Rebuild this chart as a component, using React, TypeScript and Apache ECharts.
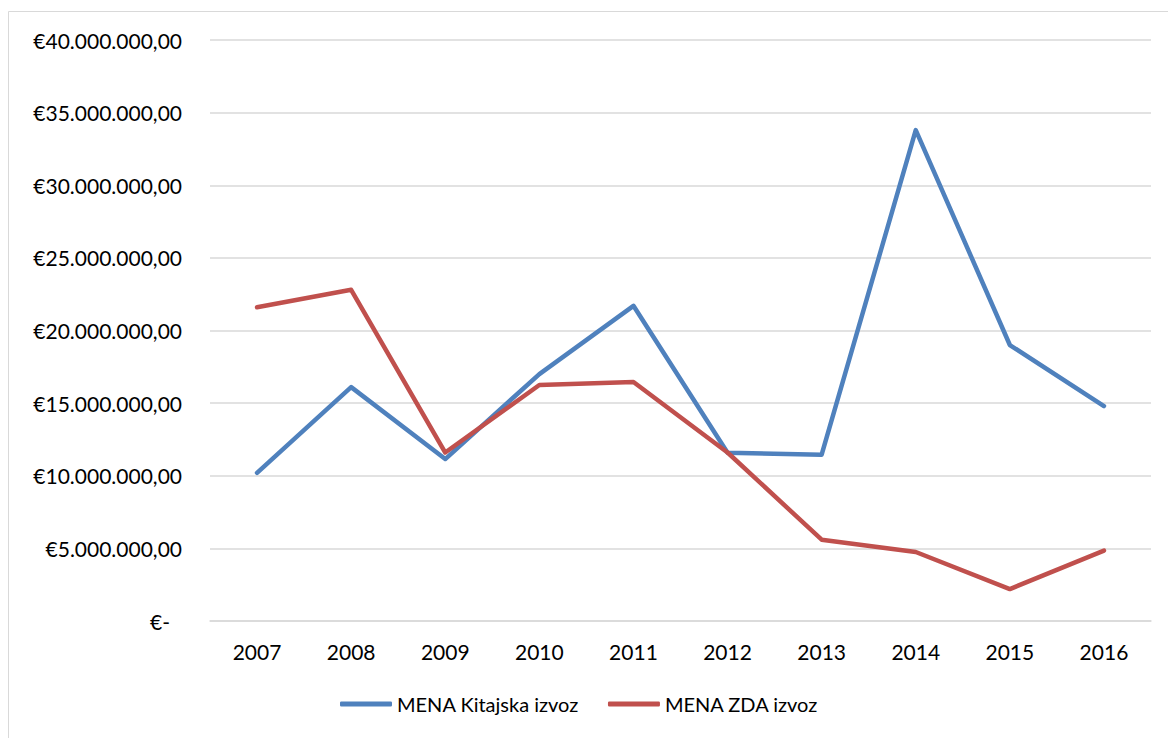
import React, { useEffect, useRef } from "react";
import * as echarts from "echarts";

const years = ["2007", "2008", "2009", "2010", "2011", "2012", "2013", "2014", "2015", "2016"];
const kitajska = [10200000, 16100000, 11150000, 17000000, 21700000, 11580000, 11450000, 33800000, 19000000, 14800000];
const zda = [21600000, 22800000, 11600000, 16250000, 16450000, 11600000, 5600000, 4750000, 2200000, 4850000];
const seriesNames = ["MENA Kitajska izvoz", "MENA ZDA izvoz"];
const FONT = "Lato, 'Liberation Sans', sans-serif";

function fmt(v: number): string {
  if (v === 0) return "{z|€-}";
  const s = Math.round(v).toString().replace(/\B(?=(\d{3})+(?!\d))/g, ".");
  return "€" + s + ",00";
}

export default function App() {
  const ref = useRef<HTMLDivElement>(null);
  useEffect(() => {
    if (!ref.current) return;
    const chart = echarts.init(ref.current, null, { renderer: "svg" });
    chart.setOption({
      animation: false,
      textStyle: { fontFamily: FONT },
      graphic: [
        {
          type: "rect",
          shape: { x: 8.5, y: 11.5, width: 1300, height: 900 },
          style: { fill: "none", stroke: "#d9d9d9", lineWidth: 1 },
          silent: true,
        },
      ],
      grid: { left: 210, right: 17, top: 40, bottom: 117, containLabel: false },
      legend: {
        left: 340,
        top: 694,
        padding: 0,
        icon: "roundRect",
        itemWidth: 52,
        itemHeight: 5,
        itemGap: 29,
        textStyle: { fontSize: 20, color: "#000", fontFamily: FONT },
        data: seriesNames,
      },
      xAxis: {
        type: "category",
        data: years,
        boundaryGap: true,
        axisTick: { show: false },
        axisLine: { lineStyle: { color: "#d9d9d9", width: 1.5 } },
        axisLabel: { fontSize: 21, color: "#000", margin: 20, fontFamily: FONT },
      },
      yAxis: {
        type: "value",
        min: 0,
        max: 40000000,
        interval: 5000000,
        axisLine: { show: false },
        axisTick: { show: false },
        splitLine: { lineStyle: { color: "#d9d9d9", width: 1.5 } },
        axisLabel: {
          fontSize: 21,
          color: "#000",
          margin: 28,
          fontFamily: FONT,
          formatter: fmt,
          rich: { z: { fontSize: 21, color: "#000", fontFamily: FONT, padding: [0, 12, 0, 0] } },
        },
      },
      series: [
        {
          name: seriesNames[0],
          type: "line",
          data: kitajska,
          showSymbol: false,
          symbol: "none",
          itemStyle: { color: "#4F81BD" },
          lineStyle: { color: "#4F81BD", width: 4.5, cap: "round", join: "round" },
        },
        {
          name: seriesNames[1],
          type: "line",
          data: zda,
          showSymbol: false,
          symbol: "none",
          itemStyle: { color: "#C0504D" },
          lineStyle: { color: "#C0504D", width: 4.5, cap: "round", join: "round" },
        },
      ],
    });
    return () => chart.dispose();
  }, []);
  return (
    <div
      ref={ref}
      style={{ position: "fixed", left: 0, top: 0, width: 1168, height: 738, background: "#fff" }}
    />
  );
}
